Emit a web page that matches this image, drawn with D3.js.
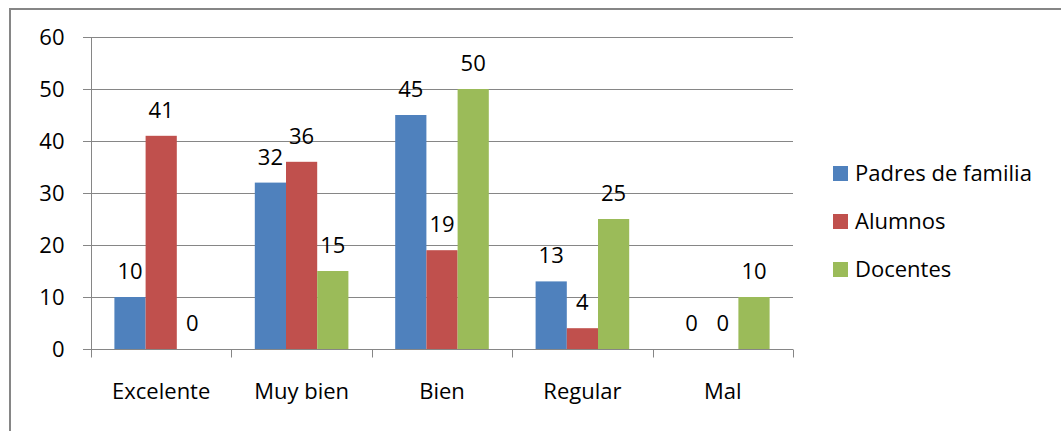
<!DOCTYPE html>
<html><head><meta charset="utf-8">
<script src="https://cdn.jsdelivr.net/npm/d3@7"></script>
<style>body{margin:0;background:#fff}svg{display:block}text{font-family:"Open Sans","Noto Sans",sans-serif;fill:#000}</style>
</head><body><svg id="c" width="1061" height="431"></svg>
<script>
const categories = ["Excelente","Muy bien","Bien","Regular","Mal"];
const seriesNames = ["Padres de familia","Alumnos","Docentes"];
const padres = [10,32,45,13,0];
const alumnos = [41,36,19,4,0];
const docentes = [0,15,50,25,10];
const colors = ["#4F81BD","#C0504D","#9BBB59"];
const yTicks = [0,10,20,30,40,50,60];
const FS = 22;

const svg = d3.select("#c");
svg.append("rect").attr("x",10).attr("y",9).attr("width",1060).attr("height",440)
  .attr("fill","#fff").attr("stroke","#868686").attr("stroke-width",2);

const L=91,R=793,T=37,B=349;
const x = d3.scaleBand().domain(categories).range([L,R]).paddingInner(0).paddingOuter(0);
const y = d3.scaleLinear().domain([0,60]).range([B,T]);
const bw = x.bandwidth()/4.5;
const xs = d3.scaleBand().domain(seriesNames).range([0,bw*3]);

// gridlines
svg.append("g").selectAll("line").data(yTicks).join("line")
  .attr("x1",83).attr("x2",R).attr("y1",d=>Math.round(y(d))+0.5).attr("y2",d=>Math.round(y(d))+0.5)
  .attr("stroke","#868686").attr("stroke-width",1);

const data = [padres,alumnos,docentes];
seriesNames.forEach((s,i)=>{
  const g = svg.append("g");
  g.selectAll("rect").data(categories).join("rect")
    .attr("x",(c)=>x(c)+bw*0.75+xs(s)).attr("width",xs.bandwidth())
    .attr("y",(c,j)=>y(data[i][j])).attr("height",(c,j)=>B-y(data[i][j]))
    .attr("fill",colors[i]);
  g.selectAll("text").data(categories).join("text")
    .attr("x",(c)=>x(c)+bw*0.75+xs(s)+xs.bandwidth()/2)
    .attr("y",(c,j)=>y(data[i][j])-18)
    .attr("text-anchor","middle").attr("font-size",FS)
    .text((c,j)=>data[i][j]);
});

// axes
const ya = d3.axisLeft(y).tickValues(yTicks).tickSize(8).tickPadding(19);
const yg = svg.append("g").attr("transform",`translate(${L+0.5},0)`).call(ya);
yg.selectAll("text").attr("font-size",FS).attr("dy","0.36em");
const xa = d3.axisBottom(x).tickSize(0).tickPadding(0);
const xg = svg.append("g").attr("transform",`translate(0,${B+0.5})`).call(xa);
xg.selectAll("text").attr("font-size",FS).attr("y",49).attr("dy",0);
xg.selectAll(".tick line").remove();
const bounds = [L, ...categories.map(c=>x(c)+x.bandwidth())];
xg.selectAll(".b").data(bounds).join("line").attr("class","b")
  .attr("x1",d=>Math.round(d)+0.5).attr("x2",d=>Math.round(d)+0.5).attr("y1",0).attr("y2",8);
svg.selectAll(".domain").attr("stroke","#868686");
svg.selectAll(".tick line, .b").attr("stroke","#868686");
yg.select(".domain").attr("d",`M0,${T}V${B}`);
xg.select(".domain").attr("d",`M${L},0H${R}`);

// legend
const lg = svg.append("g");
const ly = [173,221,269];
seriesNames.forEach((s,i)=>{
  lg.append("rect").attr("x",833).attr("y",ly[i]-7).attr("width",15).attr("height",15).attr("fill",colors[i]);
  lg.append("text").attr("x",855).attr("y",ly[i]).attr("dy","0.36em").attr("font-size",FS).text(s);
});
</script></body></html>
